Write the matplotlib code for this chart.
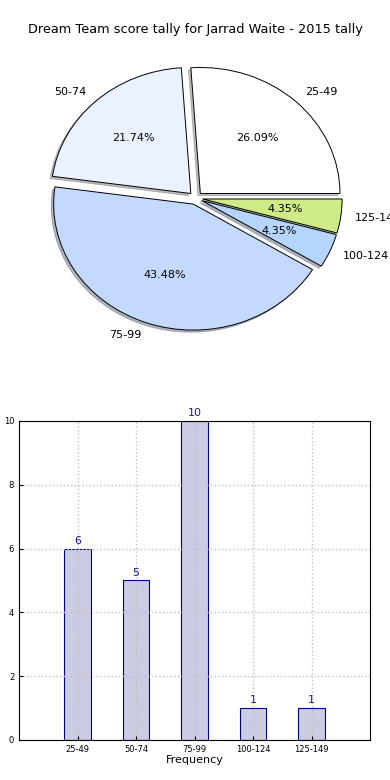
import matplotlib.pyplot as plt
import numpy as np

ranges = ["25-49", "50-74", "75-99", "100-124", "125-149"]
counts = [6, 5, 10, 1, 1]
pie_colors = ["#ffffff", "#eaf1ff", "#c4d9ff", "#b5d5ff", "#cdeb87"]

fig = plt.figure(figsize=(3.9, 7.8), dpi=100)

# pie of score ranges (not forced round, like the old default)
ax1 = fig.add_axes([0.054, 0.544, 0.895, 0.404])
ax1.pie(counts, labels=ranges, colors=pie_colors, explode=[0.05] * len(counts),
        autopct="%1.2f%%", shadow=dict(ox=-0.012, oy=-0.012, shade=0.5),
        startangle=0,
        wedgeprops=dict(edgecolor="black", linewidth=0.7),
        textprops=dict(fontsize=8))
ax1.set_aspect("auto")
fig.text(0.5, 1 - 30 / 780, "Dream Team score tally for Jarrad Waite - 2015 tally",
         ha="center", va="center", fontsize=9.3)

# bar chart of the same tally
ax2 = fig.add_axes([0.049, 0.0513, 0.9, 0.409])
x = np.arange(len(ranges))
rects = ax2.bar(x, counts, 0.45, color="#cbcce4", edgecolor="#00008b", linewidth=0.8)
ax2.bar_label(rects, padding=2, fontsize=8, color="#1a1a8c")
ax2.set_xticks(x, ranges)
ax2.set_xlim(-1, 5)
ax2.set_ylim(0, 10)
ax2.set_yticks(range(0, 11, 2))
ax2.tick_params(labelsize=6, direction="in", length=3)
ax2.grid(True, linestyle=":", color="#c0c0c0", linewidth=1)
ax2.set_xlabel("Frequency", fontsize=8, labelpad=1)
ax2.set_ylabel("Total number of scores", fontsize=8, labelpad=4)

fig.savefig("out.png", dpi=100)
